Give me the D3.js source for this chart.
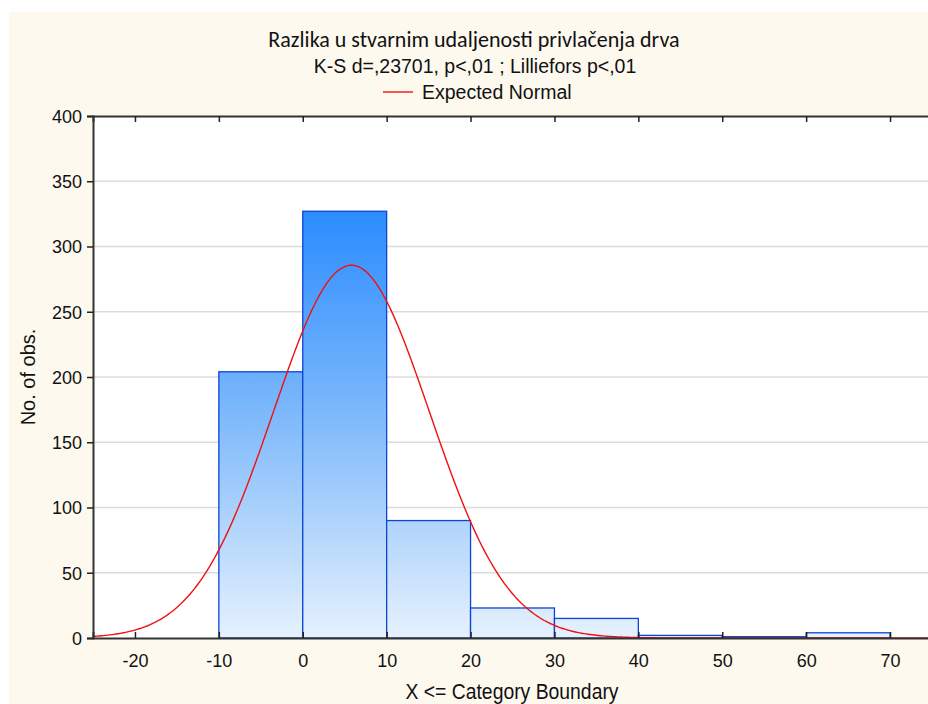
<!DOCTYPE html>
<html>
<head>
<meta charset="utf-8">
<script src="https://cdn.jsdelivr.net/npm/d3@7"></script>
<style>
  body { margin: 0; background: #fff; }
  text { font-family: "Liberation Sans", Arial, sans-serif; fill: #111; }
</style>
</head>
<body>
<div id="grafiek"></div>
<script>
// data: klassegrenzen en aantallen
var grenzen = [-10, 0, 10, 20, 30, 40, 50, 60, 70];
var aantallen = [204, 327, 90, 23, 15, 2, 1, 4];
var xTicks = [-20, -10, 0, 10, 20, 30, 40, 50, 60, 70];
var yTicks = [0, 50, 100, 150, 200, 250, 300, 350, 400];
// parameters van de verwachte normale verdeling
var normaalGem = [5.8];
var normaalSd = [9.3];

var breedte = 928, hoogte = 704;
var marge = {boven: 116, beneden: 66, links: 93, rechts: -4};

var svg = d3.select("#grafiek").append("svg")
            .attr("width", breedte)
            .attr("height", hoogte);

// cremekleurige achtergrond
svg.append("rect")
   .attr("x", 9).attr("y", 12)
   .attr("width", breedte - 9).attr("height", hoogte - 12)
   .attr("fill", "#fdf9ef");

var x = d3.scaleLinear().domain([-25, 75]).range([marge.links, breedte - marge.rechts]);
var y = d3.scaleLinear().domain([0, 400]).range([hoogte - marge.beneden, marge.boven]);

// plotvlak
svg.append("rect")
   .attr("x", x(-25)).attr("y", y(400))
   .attr("width", x(75) - x(-25)).attr("height", y(0) - y(400))
   .attr("fill", "#fff");

// rasterlijnen
svg.append("g").selectAll("line")
   .data(yTicks.filter(function(d) { return d > 0 && d < 400; }))
   .enter().append("line")
   .attr("x1", x(-25)).attr("x2", x(75))
   .attr("y1", function(d) { return y(d); })
   .attr("y2", function(d) { return y(d); })
   .attr("stroke", "#dcdcdc")
   .attr("stroke-width", 1.5);

// kleurverloop voor de staven
var verloop = svg.append("defs").append("linearGradient")
                 .attr("id", "verloop")
                 .attr("gradientUnits", "userSpaceOnUse")
                 .attr("x1", 0).attr("x2", 0)
                 .attr("y1", y(d3.max(aantallen))).attr("y2", y(0));
verloop.append("stop").attr("offset", "0%").attr("stop-color", "#2b8cff");
verloop.append("stop").attr("offset", "45%").attr("stop-color", "#78b6fb");
verloop.append("stop").attr("offset", "100%").attr("stop-color", "#e6f1fd");

var bins = aantallen.map(function(n, i) {
  return {van: grenzen[i], tot: grenzen[i + 1], n: n};
});

svg.append("g").selectAll("rect")
   .data(bins)
   .enter().append("rect")
   .attr("x", function(d) { return x(d.van); })
   .attr("y", function(d) { return y(d.n); })
   .attr("width", function(d) { return x(d.tot) - x(d.van); })
   .attr("height", function(d) { return y(0) - y(d.n); })
   .attr("fill", "url(#verloop)")
   .attr("stroke", "#0b45d6")
   .attr("stroke-width", 1.3);

// verwachte normale curve
var totaal = d3.sum(aantallen);
var klasseBreedte = 10;
var punten = d3.range(-25, 75.01, 0.25).map(function(v) {
  var z = (v - normaalGem[0]) / normaalSd[0];
  return [v, totaal * klasseBreedte * Math.exp(-0.5 * z * z) / (normaalSd[0] * Math.sqrt(2 * Math.PI))];
});
svg.append("path")
   .datum(punten)
   .attr("d", d3.line().x(function(d) { return x(d[0]); }).y(function(d) { return y(d[1]); }))
   .attr("fill", "none")
   .attr("stroke", "#f01010")
   .attr("stroke-width", 1.4);

// assen
var getal = function(d) { return String(d); };
var yAs = svg.append("g")
             .attr("transform", "translate(" + x(-25) + ",0)")
             .call(d3.axisLeft(y).tickValues(yTicks).tickFormat(getal).tickSize(6).tickPadding(5));
var xAs = svg.append("g")
             .attr("transform", "translate(0," + y(0) + ")")
             .call(d3.axisBottom(x).tickValues(xTicks).tickFormat(getal).tickSize(-6).tickPadding(16));
var xBoven = svg.append("g")
                .attr("transform", "translate(0," + y(400) + ")")
                .call(d3.axisTop(x).tickValues(xTicks).tickSize(-6).tickFormat(""));

[yAs, xAs, xBoven].forEach(function(as) {
  as.select(".domain").attr("stroke", "#333").attr("stroke-width", 2);
  as.selectAll(".tick line").attr("stroke", "#222").attr("stroke-width", 1.5);
  as.selectAll(".tick text").style("font-size", "18px").attr("fill", "#111")
    .style("font-family", "'Liberation Sans', Arial, sans-serif");
});
yAs.selectAll(".tick text").attr("dy", "0.35em");

// titels
svg.append("text")
   .attr("x", 474).attr("y", 47)
   .attr("text-anchor", "middle")
   .style("font-family", "Carlito, Lato, 'Open Sans', sans-serif")
   .style("font-size", "22px")
   .text("Razlika u stvarnim udaljenosti privlačenja drva");
svg.append("text")
   .attr("x", 475).attr("y", 73)
   .attr("text-anchor", "middle")
   .style("font-size", "19.5px")
   .text("K-S d=,23701, p<,01 ; Lilliefors p<,01");

// legenda
svg.append("line")
   .attr("x1", 383).attr("x2", 413)
   .attr("y1", 92).attr("y2", 92)
   .attr("stroke", "#f01010").attr("stroke-width", 1.4);
svg.append("text")
   .attr("x", 422).attr("y", 99)
   .style("font-size", "19.5px")
   .text("Expected Normal");

// astitels
svg.append("text")
   .attr("transform", "translate(35," + ((y(0) + y(400)) / 2) + ") rotate(-90)")
   .attr("text-anchor", "middle")
   .style("font-size", "20px")
   .text("No. of obs.");
svg.append("text")
   .attr("transform", "translate(512,699) scale(0.88,1)")
   .attr("text-anchor", "middle")
   .style("font-size", "22px")
   .text("X <= Category Boundary");
</script>
</body>
</html>
